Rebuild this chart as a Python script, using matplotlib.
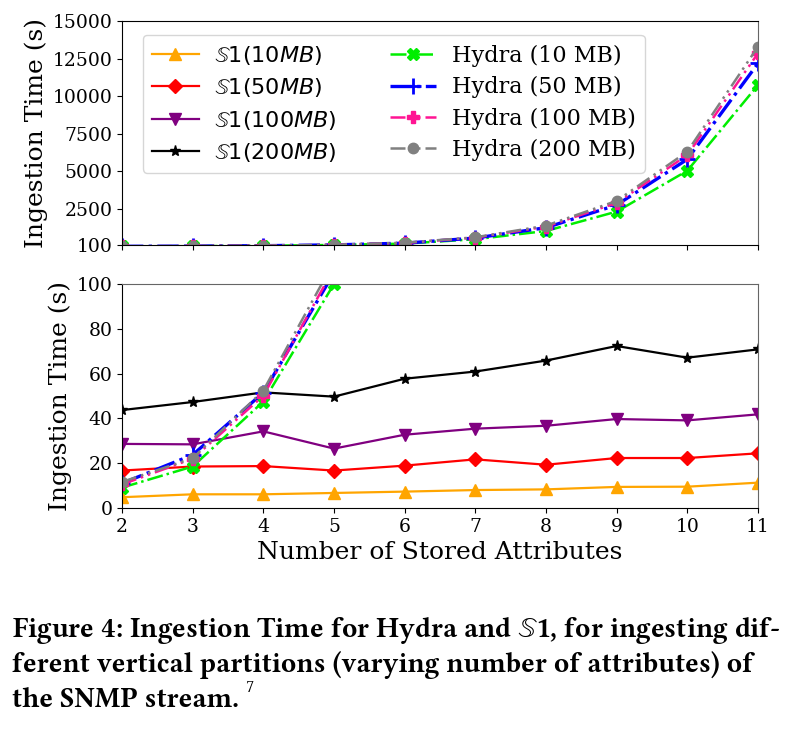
import matplotlib
matplotlib.use("Agg")
import matplotlib.pyplot as plt
from matplotlib import font_manager

# the bundled DejaVu Serif renders oddly here, prefer the system copy
_system = [f for f in font_manager.fontManager.ttflist
           if f.name == "DejaVu Serif" and f.fname.startswith("/usr/share")]
if _system:
    font_manager.fontManager.ttflist = [
        f for f in font_manager.fontManager.ttflist
        if not (f.name == "DejaVu Serif" and "mpl-data" in f.fname)
    ]

plt.rcParams["font.family"] = ["DejaVu Serif"]
plt.rcParams["mathtext.fontset"] = "dejavusans"

attrs = [2, 3, 4, 5, 6, 7, 8, 9, 10, 11]

s1_10 = [4.8, 6.1, 6.1, 6.7, 7.3, 8.0, 8.3, 9.4, 9.5, 11.3]
s1_50 = [16.7, 18.5, 18.7, 16.7, 18.9, 21.7, 19.3, 22.3, 22.3, 24.4]
s1_100 = [28.6, 28.4, 34.2, 26.5, 32.7, 35.4, 36.7, 39.7, 39.1, 41.8]
s1_200 = [43.7, 47.3, 51.6, 49.7, 57.7, 60.9, 65.8, 72.3, 67.1, 70.8]

hydra_10 = [9.1, 18.5, 47.5, 100, 190, 480, 1030, 2320, 5040, 10740]
hydra_50 = [11.0, 23.7, 51.5, 105, 220, 560, 1250, 2760, 5800, 12180]
hydra_100 = [10.5, 22.0, 50.1, 107, 235, 590, 1320, 2900, 6080, 12850]
hydra_200 = [11.6, 22.2, 52.4, 110, 250, 610, 1385, 3030, 6310, 13290]

s1_labels = [r"$\mathbb{S}1(10MB)$", r"$\mathbb{S}1(50MB)$",
             r"$\mathbb{S}1(100MB)$", r"$\mathbb{S}1(200MB)$"]
hydra_labels = ["Hydra (10 MB)", "Hydra (50 MB)", "Hydra (100 MB)", "Hydra (200 MB)"]

top_ticks = [100, 2500, 5000, 7500, 10000, 12500, 15000]
bottom_ticks = [0, 20, 40, 60, 80, 100]

caption_lines = [
    r"Figure 4: Ingestion Time for Hydra and $\mathbb{S}$1, for ingesting dif-",
    "ferent vertical partitions (varying number of attributes) of",
    "the SNMP stream.",
]

s1_series = [s1_10, s1_50, s1_100, s1_200]
s1_styles = [("orange", "^", 8), ("red", "D", 7.5), ("purple", "v", 8), ("black", "*", 8)]
hydra_series = [hydra_10, hydra_50, hydra_100, hydra_200]
hydra_styles = [
    ("#00ee00", "X", 8, 1.8, "-."),
    ("blue", "+", 11, 2.4, "-."),
    ("deeppink", "P", 8, 1.8, (0, (6, 2, 1, 2, 1, 2))),
    ("gray", "o", 7.5, 1.8, (0, (6, 2, 1, 2, 1, 2))),
]

fig = plt.figure(figsize=(8.01, 7.33), dpi=100)
ax_top = fig.add_axes([0.1523, 0.6658, 0.794, 0.3056])
ax_bot = fig.add_axes([0.1523, 0.307, 0.794, 0.3056])


def draw(axis, with_s1=True):
    handles = []
    if with_s1:
        for values, label, (color, marker, size) in zip(s1_series, s1_labels, s1_styles):
            (line,) = axis.plot(attrs, values, color=color, marker=marker, markersize=size,
                                linewidth=1.6, label=label)
            handles.append(line)
    for values, label, (color, marker, size, lw, ls) in zip(hydra_series, hydra_labels, hydra_styles):
        (line,) = axis.plot(attrs, values, color=color, marker=marker, markersize=size,
                            markeredgewidth=2 if marker == "+" else 1,
                            linewidth=lw, linestyle=ls, label=label)
        handles.append(line)
    axis.set_xlim(2, 11)
    axis.set_xticks(attrs)
    axis.tick_params(labelsize=13.5)
    axis.spines["right"].set_color("#666666")
    return handles


draw(ax_top, with_s1=False)
ax_top.set_ylim(100, 15000)
ax_top.set_yticks(top_ticks)
ax_top.tick_params(labelbottom=False)
ax_top.set_ylabel("Ingestion Time (s)", fontsize=18)
ax_top.yaxis.set_label_coords(-0.116, 0.5)

handles = draw(ax_bot)
ax_bot.set_ylim(0, 100)
ax_bot.set_yticks(bottom_ticks)
ax_bot.spines["top"].set_color("#666666")
ax_bot.set_ylabel("Ingestion Time (s)", fontsize=18)
ax_bot.yaxis.set_label_coords(-0.079, 0.5)
ax_bot.set_xlabel("Number of Stored Attributes", fontsize=18, labelpad=4)

ax_top.legend(handles=handles, ncol=2, loc="upper left", fontsize=16,
              bbox_to_anchor=(0.033, 0.9375), borderaxespad=0.0, labelspacing=0.42,
              columnspacing=2.4, handlelength=2.1, handletextpad=0.7)

# caption, sized so that the first line fills the column
renderer = fig.canvas.get_renderer()
caption_y = [0.131, 0.083, 0.035]
cap_family = ["Libertinus Serif", "DejaVu Serif"]
texts = [
    fig.text(12 / 801, ypos, text, fontsize=16, fontweight="bold", family=cap_family,
             math_fontfamily="dejavuserif", va="baseline", ha="left")
    for text, ypos in zip(caption_lines, caption_y)
]
size = 16 * 771 / texts[0].get_window_extent(renderer).width
for t in texts:
    t.set_fontsize(size)
bb = texts[2].get_window_extent(renderer)
fig.text((bb.x1 + 6) / 801, caption_y[2] + 0.021, "7", fontsize=size * 0.62,
         family=cap_family, va="baseline", ha="left")

fig.savefig("out.png", dpi=100)
